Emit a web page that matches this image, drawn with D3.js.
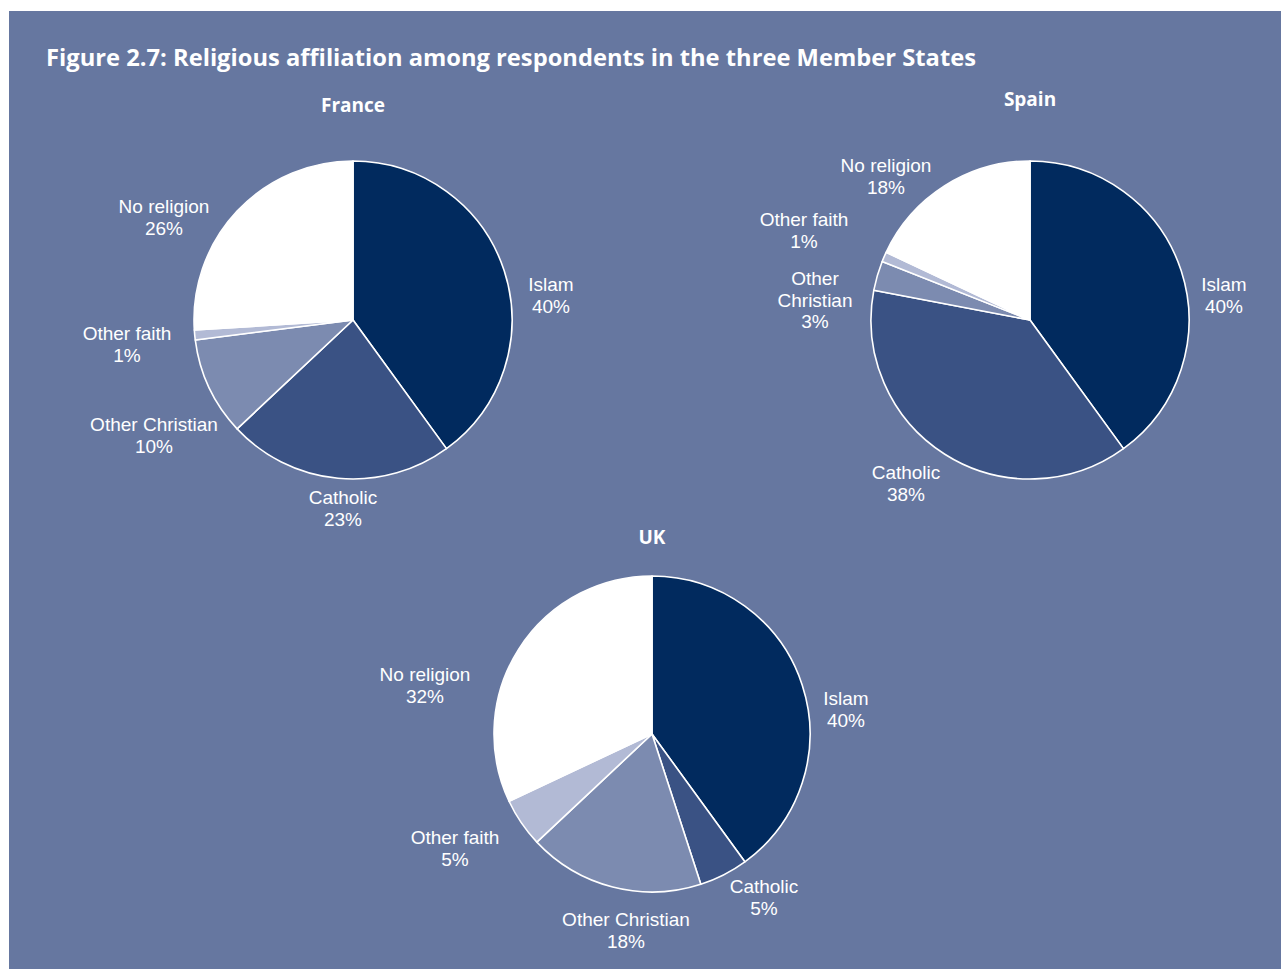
<!DOCTYPE html>
<html><head><meta charset="utf-8">
<script src="https://cdn.jsdelivr.net/npm/d3@7"></script>
<style>
html,body{margin:0;padding:0;background:#fff;}
svg{display:block;}
text{font-family:"Open Sans","Noto Sans",sans-serif;fill:#fff;}
text.lbl{font-family:"Liberation Sans",Arial,sans-serif;}
</style></head><body>
<script>
// ---- data ----
const categories = ["Islam", "Catholic", "Other Christian", "Other faith", "No religion"];
const countries = ["France", "Spain", "UK"];
const franceValues = [40, 23, 10, 1, 26];
const spainValues = [40, 38, 3, 1, 18];
const ukValues = [40, 5, 18, 5, 32];
const colors = ["#012a5e", "#3a5284", "#7c8bb0", "#b2bad5", "#ffffff"];
const title = "Figure 2.7: Religious affiliation among respondents in the three Member States";

// ---- layout ----
const W = 1281, H = 969;
const layout = {
  France: {cx: 353, cy: 320, r: 159, titleY: 112,
    labels: {"Islam": [198,-36], "Catholic": [-10,177], "Other Christian": [-199,104], "Other faith": [-226,13], "No religion": [-189,-114]},
    lines: {}},
  Spain: {cx: 1030, cy: 320, r: 159, titleY: 106,
    labels: {"Islam": [194,-36], "Catholic": [-124,152], "Other Christian": [-215,-42], "Other faith": [-226,-101], "No religion": [-144,-155]},
    lines: {"Other Christian": ["Other", "Christian"]}},
  UK: {cx: 652, cy: 734, r: 158, titleY: 544,
    labels: {"Islam": [194,-36], "Catholic": [112,152], "Other Christian": [-26,185], "Other faith": [-197,103], "No religion": [-227,-60]},
    lines: {}}
};
const valuesBy = {France: franceValues, Spain: spainValues, UK: ukValues};

const svg = d3.select("body").append("svg").attr("width", W).attr("height", H);
svg.append("rect").attr("x", 9).attr("y", 11).attr("width", W - 9).attr("height", H - 11).attr("fill", "#6677a0");

svg.append("text").attr("x", 46).attr("y", 66)
  .attr("font-size", 23.5).attr("font-weight", 700)
  .attr("textLength", 930).attr("lengthAdjust", "spacingAndGlyphs")
  .text(title);

const color = d3.scaleOrdinal().domain(categories).range(colors);
const pie = d3.pie().sort(null).value(d => d.value);

countries.forEach(c => {
  const L = layout[c];
  const data = categories.map((k, i) => ({cat: k, value: valuesBy[c][i]}));
  const arc = d3.arc().innerRadius(0).outerRadius(L.r);
  const g = svg.append("g").attr("transform", `translate(${L.cx},${L.cy})`);
  g.selectAll("path").data(pie(data)).join("path")
    .attr("d", arc)
    .attr("fill", d => color(d.data.cat))
    .attr("stroke", "#fff").attr("stroke-width", 1.6).attr("stroke-linejoin", "round");

  svg.append("text").attr("x", L.cx).attr("y", L.titleY)
    .attr("text-anchor", "middle").attr("font-size", 19).attr("font-weight", 700).text(c);

  data.forEach(d => {
    const off = L.labels[d.cat];
    const lines = (L.lines[d.cat] || [d.cat]).concat([d.value + "%"]);
    lines.forEach((ln, i) => {
      g.append("text").attr("class", "lbl").attr("text-anchor", "middle").attr("font-size", 19)
        .attr("x", off[0]).attr("y", off[1] + 7 + i * 21.6).text(ln);
    });
  });
});
</script>
</body></html>
